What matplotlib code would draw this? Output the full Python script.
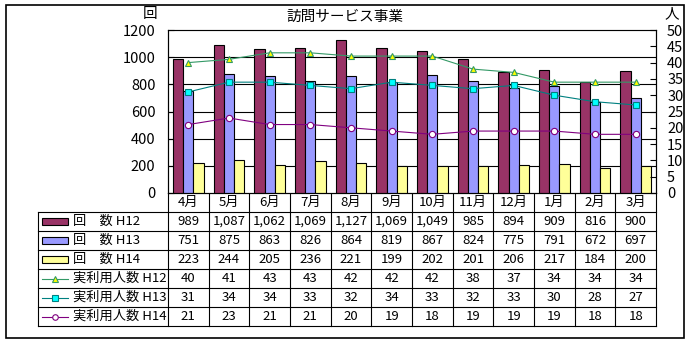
import numpy as np
import matplotlib.pyplot as plt
from matplotlib.lines import Line2D
from matplotlib.patches import Rectangle

plt.rcParams['font.family'] = ['Noto Sans CJK JP', 'DejaVu Sans']

# data
months = ['4月', '5月', '6月', '7月', '8月', '9月', '10月', '11月', '12月', '1月', '2月', '3月']
visits_h12 = [989, 1087, 1062, 1069, 1127, 1069, 1049, 985, 894, 909, 816, 900]
visits_h13 = [751, 875, 863, 826, 864, 819, 867, 824, 775, 791, 672, 697]
visits_h14 = [223, 244, 205, 236, 221, 199, 202, 201, 206, 217, 184, 200]
users_h12 = [40, 41, 43, 43, 42, 42, 42, 38, 37, 34, 34, 34]
users_h13 = [31, 34, 34, 33, 32, 34, 33, 32, 33, 30, 28, 27]
users_h14 = [21, 23, 21, 21, 20, 19, 18, 19, 19, 19, 18, 18]

bar_labels = ['回\u3000数 H12', '回\u3000数 H13', '回\u3000数 H14']
line_labels = ['実利用人数 H12', '実利用人数 H13', '実利用人数 H14']

bar_colors = ['#993366', '#9999FF', '#FFFF99']
line_colors = ['#339966', '#008080', '#800080']
marker_faces = ['#FFFF00', '#00FFFF', '#FFFFFF']
markers = ['^', 's', 'o']

# layout in pixels
W, H = 692, 344
pl, pr, pt, pb = 168, 656, 30, 193
row_h = 19
leg_l = 38

fig = plt.figure(figsize=(W / 100, H / 100), dpi=100)

# overlay for border, titles and the data table
ov = fig.add_axes([0, 0, 1, 1])
ov.set_xlim(0, W)
ov.set_ylim(H, 0)
ov.axis('off')
ov.add_patch(Rectangle((6, 5), 678, 333, fill=False, ec='black', lw=1.2))

ax = fig.add_axes([pl / W, 1 - pb / H, (pr - pl) / W, (pb - pt) / H])
x = np.arange(len(months))
bw = 0.25
for i, (vals, c) in enumerate(zip([visits_h12, visits_h13, visits_h14], bar_colors)):
    ax.bar(x + (i - 1) * bw, vals, bw, color=c, edgecolor='black', lw=0.8, zorder=3)
ax.set_xlim(-0.5, len(months) - 0.5)
ax.set_ylim(0, 1200)
ax.set_yticks(np.arange(0, 1201, 200))
ax.set_xticks([])
for yv in range(200, 1200, 200):
    ax.axhline(yv, color='black', lw=0.8, zorder=1)
ax.spines['top'].set_color('#808080')
for s in ['left', 'right', 'bottom']:
    ax.spines[s].set_color('black')
ax.tick_params(axis='y', direction='in', length=4, labelsize=10.5, pad=9)

ax2 = ax.twinx()
for vals, c, m, f in zip([users_h12, users_h13, users_h14], line_colors, markers, marker_faces):
    ax2.plot(x, vals, color=c, lw=0.8, marker=m, ms=4.5, mfc=f, mec=c, mew=0.8, zorder=4)
ax2.set_ylim(0, 50)
ax2.set_yticks(np.arange(0, 51, 5))
ax2.tick_params(axis='y', direction='in', length=4, labelsize=10.5, pad=8)
ax2.set_xlim(-0.5, len(months) - 0.5)

fig.text(345 / W, 1 - 17 / H, '訪問サービス事業', ha='center', va='center', fontsize=10.5)
fig.text(150 / W, 1 - 14 / H, '回', ha='center', va='center', fontsize=10.5)
fig.text(672 / W, 1 - 14 / H, '人', ha='center', va='center', fontsize=10.5)

# data table
n = len(months)
cw = (pr - pl) / n
rows = [visits_h12, visits_h13, visits_h14, users_h12, users_h13, users_h14]
labels = bar_labels + line_labels
tb = pb + row_h * (len(rows) + 1)
ts = 9.5

# header row
for j in range(n + 1):
    xx = pl + j * cw
    ov.plot([xx, xx], [pb, tb], color='black', lw=0.8)
for j, m in enumerate(months):
    ov.text(pl + (j + 0.5) * cw, pb + row_h / 2, m, ha='center', va='center', fontsize=ts)
ov.plot([leg_l, pr], [pb + row_h, pb + row_h], color='black', lw=0.8)
ov.plot([leg_l, leg_l], [pb + row_h, tb], color='black', lw=0.8)

for i, (lab, vals) in enumerate(zip(labels, rows)):
    y0 = pb + row_h * (i + 1)
    yc = y0 + row_h / 2
    ov.plot([leg_l, pr], [y0 + row_h, y0 + row_h], color='black', lw=0.8)
    if i < 3:
        ov.add_patch(Rectangle((leg_l + 4, yc - 3.5), 26, 7, fc=bar_colors[i], ec='black', lw=0.8))
    else:
        k = i - 3
        ov.plot([leg_l + 4, leg_l + 30], [yc, yc], color=line_colors[k], lw=0.8)
        ov.plot([leg_l + 17], [yc], marker=markers[k], ms=4, mfc=marker_faces[k],
                mec=line_colors[k], mew=0.8, color=line_colors[k])
    ov.text(leg_l + 35, yc, lab, ha='left', va='center', fontsize=ts)
    for j, v in enumerate(vals):
        ov.text(pl + (j + 0.5) * cw, yc, f'{v:,}', ha='center', va='center', fontsize=ts)

fig.savefig('out.png', dpi=100)
